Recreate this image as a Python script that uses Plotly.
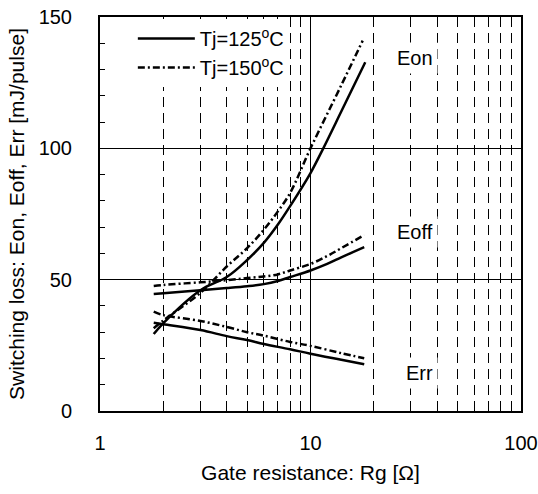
import math
import plotly.graph_objects as go

rg_on125 = [1.8, 2, 3, 4, 5, 6, 7, 8, 10, 11.5, 14, 18.2]
eon_125 = [29.3, 33.5, 46, 51, 57.5, 64, 71, 78, 90.6, 100, 114, 132.8]
rg_on150 = [1.8, 2, 3, 4, 5, 6, 7, 8, 10, 14, 17.7]
eon_150 = [31.5, 34.5, 45, 55, 62, 69, 76, 83, 100, 124, 141]

rg_off = [1.8, 2, 3, 4, 5, 6, 7, 8, 10, 12, 14, 18]
eoff_125 = [44.5, 44.8, 46, 46.8, 47.5, 48.3, 49.5, 51, 53.5, 56, 58.5, 62.4]
eoff_150 = [47.6, 48, 49, 49.8, 50.6, 51.2, 52, 53.5, 56, 59, 62, 67]

rg_rr = [1.8, 2, 3, 4, 5, 6, 8, 10, 14, 18]
err_125 = [33.6, 33, 30.8, 28.5, 27, 25.5, 23.5, 21.8, 19.5, 17.8]
err_150 = [37.8, 36.5, 34.3, 32, 30, 28.7, 26.3, 24.8, 22, 20.1]

labels = ["Eon", "Eoff", "Err"]
label_x = [31.4, 31.4, 33.1]
label_y = [134.4, 68.1, 14.5]

minor_x = [2, 3, 4, 5, 6, 7, 8, 9, 20, 30, 40, 50, 60, 70, 80, 90]

DASH150 = "7px,3px,2px,3px"
fig = go.Figure()
series = [
    (rg_on125, eon_125, "solid", "Tj=125<sup>o</sup>C", True, "a"),
    (rg_on150, eon_150, DASH150, "Tj=150<sup>o</sup>C", True, "b"),
    (rg_off, eoff_125, "solid", None, False, "a"),
    (rg_off, eoff_150, DASH150, None, False, "b"),
    (rg_rr, err_125, "solid", None, False, "a"),
    (rg_rr, err_150, DASH150, None, False, "b"),
]
for x, y, dash, name, show, grp in series:
    fig.add_trace(go.Scatter(
        x=x, y=y, mode="lines", name=name, showlegend=show, legendgroup=grp,
        line=dict(color="black", width=2.5, dash=dash, shape="spline"),
    ))

for t, xx, yy in zip(labels, label_x, label_y):
    fig.add_annotation(x=math.log10(xx), y=yy, xref="x", yref="y", text=t, showarrow=False,
                       font=dict(size=20, color="black"), bgcolor="white", borderpad=4)

font_family = "Liberation Sans, Arial, sans-serif"
fig.update_layout(
    width=538, height=494,
    margin=dict(l=100, r=17, t=17, b=83),
    paper_bgcolor="white", plot_bgcolor="white",
    font=dict(family=font_family, size=20, color="black"),
    legend=dict(x=0.078, y=0.995, xanchor="left", yanchor="top", bgcolor="white",
                font=dict(size=20), itemwidth=57, tracegroupgap=0),
    xaxis=dict(
        type="log", range=[0, 2], tickvals=[1, 10, 100], ticktext=["1", "10", "100"],
        showgrid=True, gridcolor="black", gridwidth=1,
        minor=dict(tickvals=minor_x, showgrid=True, gridcolor="black", gridwidth=1,
                   griddash="10px,6px"),
        showline=True, linecolor="black", linewidth=2, mirror=True,
        ticks="", ticklabelstandoff=13, tickfont=dict(size=20),
        title=dict(text="Gate resistance: Rg [Ω]", font=dict(size=21), standoff=12),
        zeroline=False, automargin=False,
    ),
    yaxis=dict(
        range=[0, 150], tickvals=[0, 50, 100, 150],
        showgrid=True, gridcolor="black", gridwidth=1,
        minor=dict(dtick=10, tick0=0, ticks="inside", ticklen=5, tickcolor="black", showgrid=False),
        ticks="inside", ticklen=5, tickcolor="black",
        showline=True, linecolor="black", linewidth=2, mirror=True,
        ticklabelstandoff=22, tickfont=dict(size=20),
        title=dict(text="Switching loss: Eon, Eoff, Err [mJ/pulse]", font=dict(size=21), standoff=8),
        zeroline=False, automargin=False,
    ),
)
fig.write_html("out.html")
